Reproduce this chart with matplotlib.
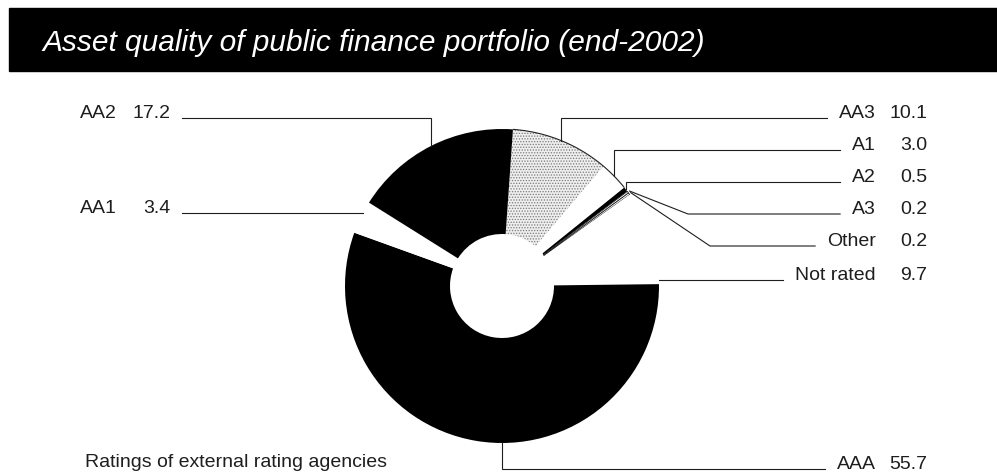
import matplotlib.pyplot as plt
import numpy as np
from matplotlib.patches import Rectangle, Arc

# Public finance portfolio by external rating, end-2002 (% share)
ratings = ["AA3", "A1", "A2", "A3", "Other", "Not rated", "AAA", "AA1", "AA2"]
shares = [10.1, 3.0, 0.5, 0.2, 0.2, 9.7, 55.7, 3.4, 17.2]
share_text = ["10.1", "3.0", "0.5", "0.2", "0.2", "9.7", "55.7", "3.4", "17.2"]

fills = ["#eeeeee", "white", "black", "white", "white", "white", "black", "white", "black"]

# label side, baseline row (pixels from top), leader kind, elbow x for diagonal leaders
layout = {
    "AA3": ("right", 118, "elbow", None),
    "A1": ("right", 150, "elbow", None),
    "A2": ("right", 182, "elbow", None),
    "A3": ("right", 214, "diag", 688),
    "Other": ("right", 246, "diag", 710),
    "Not rated": ("right", 280, "flat", None),
    "AAA": ("right", 469, "bottom", None),
    "AA1": ("left", 213, "flat", None),
    "AA2": ("left", 118, "elbow", None),
}

W, H = 997, 474
cx, cy = 502, H - 286
R, RING = 157, 105
ink = "#1e1e1e"
fs = 14
plt.rcParams["font.family"] = ["Liberation Sans", "DejaVu Sans"]
plt.rcParams["hatch.linewidth"] = 0.6

fig = plt.figure(figsize=(W / 100, H / 100), dpi=100)
ax = fig.add_axes([0, 0, 1, 1])
wedges, _ = ax.pie(shares, startangle=86, counterclock=False, radius=R,
                   center=(cx, cy), colors=fills,
                   wedgeprops=dict(width=RING, linewidth=0))
ax.set_xlim(0, W)
ax.set_ylim(0, H)
ax.set_aspect("equal")
ax.axis("off")

# stippled AA3, outlined thin slices
wedges[0].set_hatch("......")
wedges[0].set_edgecolor("#7a7a7a")
for i in (3, 4):
    wedges[i].set_edgecolor("#222222")
    wedges[i].set_linewidth(0.6)
# outer rim over AA3 and A1
ax.add_patch(Arc((cx, cy), 2 * R, 2 * R, theta1=wedges[1].theta1,
                 theta2=wedges[0].theta2, color="#222222", lw=0.8))

# title bar
ax.add_patch(Rectangle((9, H - 71), W - 9, 63, color="black", zorder=0))
ax.text(42, H - 51, "Asset quality of public finance portfolio (end-2002)",
        color="white", fontsize=21.5, style="italic", va="baseline")

ax.text(85, H - 467, "Ratings of external rating agencies", color=ink,
        fontsize=fs, va="baseline")

# labels first, leaders need their extents
texts = {}
for name, val in zip(ratings, share_text):
    side, row, kind, ex = layout[name]
    y = H - row
    if side == "right":
        t = ax.text(876, y, name, ha="right", va="baseline", fontsize=fs, color=ink)
        ax.text(927, y, val, ha="right", va="baseline", fontsize=fs, color=ink)
    else:
        t = ax.text(80, y, name, ha="left", va="baseline", fontsize=fs, color=ink)
        ax.text(170, y, val, ha="right", va="baseline", fontsize=fs, color=ink)
    texts[name] = t

fig.canvas.draw()
renderer = fig.canvas.get_renderer()
inv = ax.transData.inverted()

for w, name in zip(wedges, ratings):
    side, row, kind, ex = layout[name]
    y = H - row
    if side == "right":
        x0 = texts[name].get_window_extent(renderer).x0
        end = inv.transform((x0, 0))[0] - 12
    else:
        end = 182
    mid = np.radians((w.theta1 + w.theta2) / 2)
    if kind == "elbow":
        ax_, ay = cx + R * np.cos(mid), cy + R * np.sin(mid)
        xs, ys = [ax_, ax_, end], [ay, y, y]
    elif kind == "diag":
        ax_, ay = cx + (R + 2) * np.cos(mid), cy + (R + 2) * np.sin(mid)
        xs, ys = [ax_, ex, end], [ay, y, y]
    elif kind == "flat":
        dx = np.sqrt(R ** 2 - (y - cy) ** 2)
        edge = cx + dx if side == "right" else cx - dx
        xs, ys = [edge, end], [y, y]
    else:
        xs, ys = [cx, cx, end], [cy - R, y, y]
    ax.plot(xs, ys, color=ink, lw=0.8, solid_joinstyle="miter")

fig.savefig("out.png", dpi=100)
